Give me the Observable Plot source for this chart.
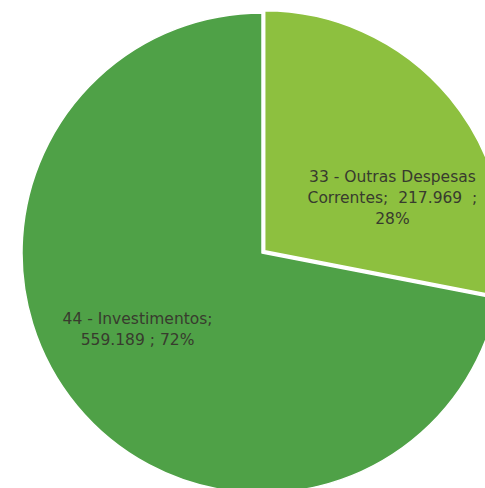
<!DOCTYPE html>
<html>
<head>
<meta charset="utf-8">
<script src="https://cdn.jsdelivr.net/npm/d3@7"></script>
<script src="https://cdn.jsdelivr.net/npm/@observablehq/plot@0.6"></script>
<style>
  html, body { margin: 0; padding: 0; background: #fff; }
  svg { display: block; }
</style>
</head>
<body>
<div id="chart"></div>
<script>
// ---- data ----
const categories = ["33 - Outras Despesas Correntes", "44 - Investimentos"];
const values = [217.969, 559.189];
const valueLabels = ["217.969", "559.189"];
const percentLabels = ["28%", "72%"];
const colors = ["#8dc03f", "#4fa147"];

// ---- layout (pixels) ----
const W = 485, H = 488;
const cx = 262, cy = 253, R = 240;

const slices = d3.pie().sort(null).value(d => d.value)(
  categories.map((c, i) => ({category: c, value: values[i], color: colors[i], i}))
);

const labelArc = d3.arc().innerRadius(0.61).outerRadius(0.61);
const labelTexts = [
  `33 - Outras Despesas\nCorrentes;  ${valueLabels[0]}  ;\n${percentLabels[0]}`,
  `44 - Investimentos;\n${valueLabels[1]} ; ${percentLabels[1]}`
];
const labels = slices.map((s, i) => {
  const [ux, uy] = labelArc.centroid(s);
  return {x: ux, y: -uy, text: labelTexts[i]};
});

function pieMark(index, scales, values, dimensions, context) {
  const x = scales.x, y = scales.y;
  const ox = x(0), oy = y(0), r = x(1) - x(0);
  const arc = d3.arc().innerRadius(0).outerRadius(r);
  const g = d3.create("svg:g");
  slices.forEach((s, i) => {
    // first slice slightly pulled out, as in the reference
    const pull = i === 0 ? 3.5 : 0;
    const mid = (s.startAngle + s.endAngle) / 2;
    const tx = ox + pull * Math.sin(mid), ty = oy - pull * Math.cos(mid);
    g.append("path")
      .attr("transform", `translate(${tx},${ty})`)
      .attr("d", arc(s))
      .attr("fill", s.data.color)
      .attr("stroke", "#ffffff")
      .attr("stroke-width", 1.5)
      .attr("stroke-linejoin", "round");
  });
  return g.node();
}

const chart = Plot.plot({
  width: W,
  height: H,
  margin: 0,
  style: {background: "#ffffff", fontFamily: "DejaVu Sans, Verdana, sans-serif"},
  x: {domain: [-1, 1], range: [cx - R, cx + R], axis: null},
  y: {domain: [-1, 1], range: [cy + R, cy - R], axis: null},
  marks: [
    pieMark,
    Plot.text([labels[0]], {x: "x", y: "y", text: "text", dx: 17, dy: 36, fontSize: 15.5, lineHeight: 1.37, fill: "#383b2e", textAnchor: "middle"}),
    Plot.text([labels[1]], {x: "x", y: "y", text: "text", dx: -12, dy: -19, fontSize: 15.5, lineHeight: 1.37, fill: "#383b2e", textAnchor: "middle"})
  ]
});
document.getElementById("chart").append(chart);
</script>
</body>
</html>
